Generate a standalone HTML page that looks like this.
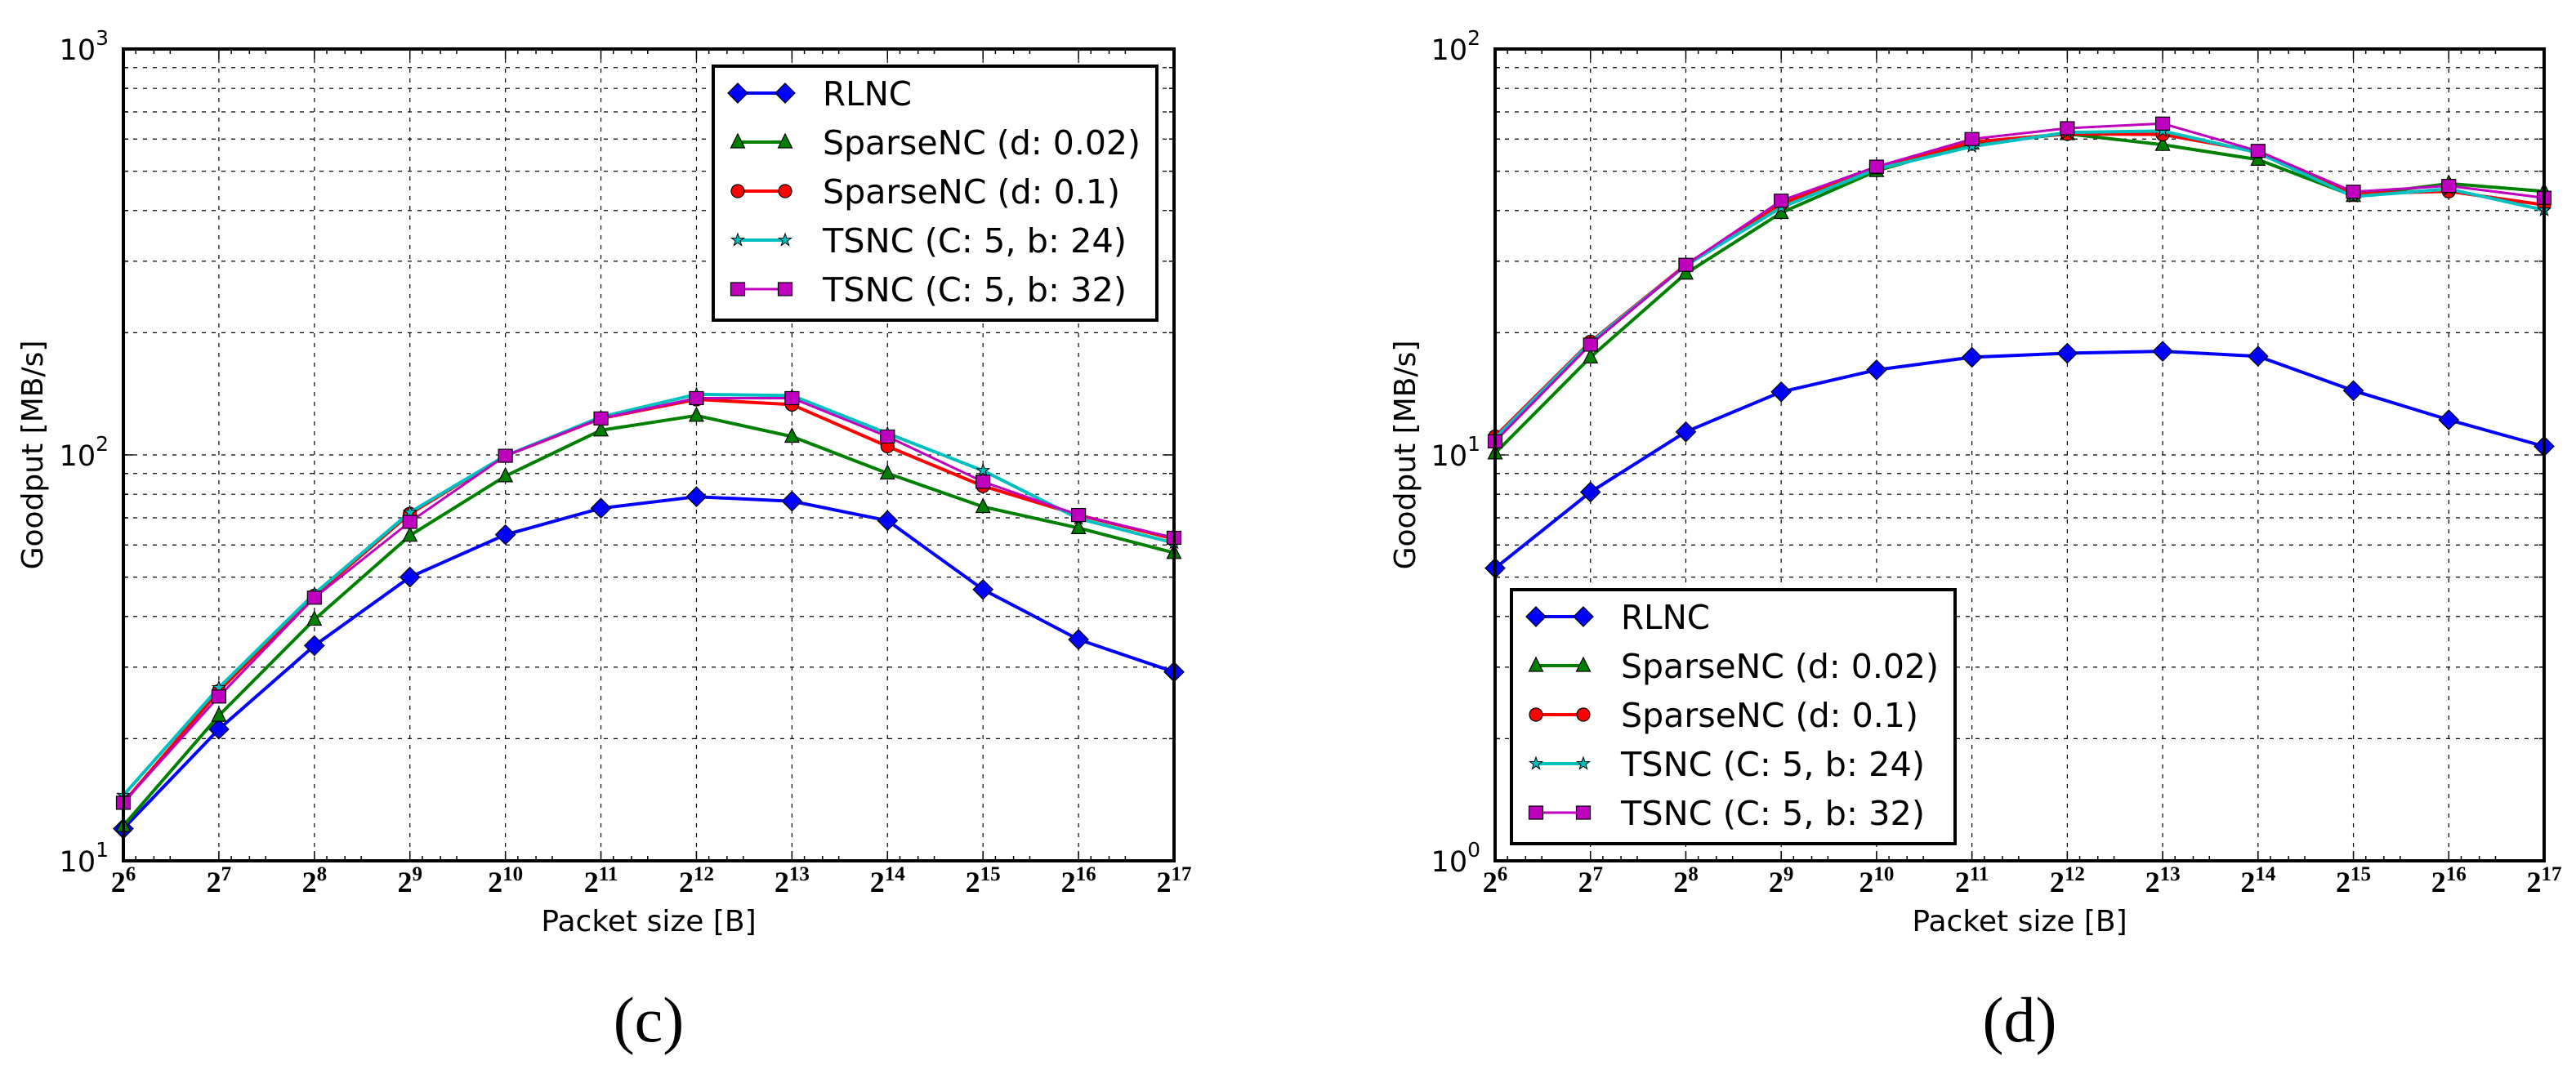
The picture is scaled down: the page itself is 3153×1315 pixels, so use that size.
<!DOCTYPE html>
<html><head><meta charset="utf-8"><style>
html,body{margin:0;padding:0;background:#fff;}
svg{display:block;}
</style></head><body>
<svg id="fig" width="3153" height="1315" viewBox="0 0 3153 1315" xmlns="http://www.w3.org/2000/svg"></svg>
<script>
const xExponents = [6,7,8,9,10,11,12,13,14,15,16,17];
const seriesNames = ["RLNC","SparseNC (d: 0.02)","SparseNC (d: 0.1)","TSNC (C: 5, b: 24)","TSNC (C: 5, b: 32)"];
// panel (c) values [MB/s]
const cRLNC = [12.0,21.1,33.9,50,63.6,73.9,78.9,76.9,68.9,46.6,35.1,29.2];
const cSparse002 = [12.2,22.8,39.3,63.3,88.7,115,125,111,90.1,74.5,66.1,57.4];
const cSparse01 = [13.9,26.2,45,71.6,99.5,123,137,133,105,83.8,71.1,62.1];
const cTSNC24 = [14.5,26.7,45.5,72.2,99.5,124,141,140,113,91.5,69.7,60.7];
const cTSNC32 = [13.9,25.4,44.5,68.4,99.5,123,138,138,111,85.9,71.1,62.5];
// panel (d) values [MB/s]
const dRLNC = [5.26,8.1,11.4,14.3,16.2,17.4,17.8,18.0,17.5,14.4,12.2,10.5];
const dSparse002 = [10.1,17.4,28.0,39.5,50.1,58.6,61.8,58.1,53.4,43.5,46.6,44.6];
const dSparse01 = [11.1,19.0,29.4,41.5,51.1,59.0,61.8,61.6,55.9,44.0,44.6,41.3];
const dTSNC24 = [11.0,18.9,29.3,40.7,50.6,57.5,62.3,62.8,55.5,43.3,45.2,40.1];
const dTSNC32 = [10.8,18.7,29.4,42.3,51.3,60.0,63.8,65.5,56.1,44.5,46.0,43.0];
const cYDecades = [1,2,3];
const dYDecades = [0,1,2];

const NS = "http://www.w3.org/2000/svg";
const svg = document.getElementById('fig');
const colors = ["#0000ff","#008000","#ff0000","#00bfbf","#bf00bf"];
const markers = ["diamond","triangle","circle","star","square"];
const lineW = [4,4,4,4,3];

function el(tag, attrs, parent){
  const e = document.createElementNS(NS, tag);
  for (const k in attrs) e.setAttribute(k, attrs[k]);
  (parent||svg).appendChild(e);
  return e;
}

function marker(g, type, x, y, color){
  let m;
  if (type==="diamond"){
    m = el('polygon',{points:`${x},${y-12} ${x+12},${y} ${x},${y+12} ${x-12},${y}`,fill:color,stroke:'#000','stroke-width':1.2},g);
  } else if (type==="triangle"){
    m = el('polygon',{points:`${x},${y-10} ${x+8.5},${y+7} ${x-8.5},${y+7}`,fill:color,stroke:'#000','stroke-width':1.2},g);
  } else if (type==="circle"){
    m = el('circle',{cx:x,cy:y,r:8,fill:color,stroke:'#000','stroke-width':1.2},g);
  } else if (type==="square"){
    m = el('rect',{x:x-8.5,y:y-8,width:17,height:16,fill:color,stroke:'#000','stroke-width':1.2},g);
  } else {
    let pts=[];
    for(let i=0;i<10;i++){const r=i%2?3.2:8;const a=-Math.PI/2+i*Math.PI/5;pts.push((x+r*Math.cos(a)).toFixed(1)+','+(y+r*Math.sin(a)).toFixed(1));}
    m = el('polygon',{points:pts.join(' '),fill:color,stroke:'#000','stroke-width':1},g);
  }
  
  
}

function panel(cfg){
  const {L,R,T,B,dec0,decades,series,legend,label,ylabelX,id} = cfg;
  const g = el('g',{});
  
  
  const xs = e => L + (e - xExponents[0])/(xExponents[xExponents.length-1]-xExponents[0])*(R-L);
  const ys = v => B - (Math.log10(v) - dec0)/(decades[decades.length-1]-dec0)*(B-T);
  const grid = el('g',{stroke:'#000','stroke-width':1.2,'stroke-dasharray':'5,7',fill:'none'},g);
  
  
  for (let d=dec0; d<decades[decades.length-1]; d++){
    for (let s=1;s<=9;s++){
      const v = s*Math.pow(10,d); const y = ys(v);
      if (s>1 || d>dec0) el('line',{x1:L,x2:R,y1:y,y2:y},grid);
      const len = s===1?12:6;
      el('line',{x1:L,x2:L+len,y1:y,y2:y,stroke:'#000','stroke-width':1.5},g);
      el('line',{x1:R,x2:R-len,y1:y,y2:y,stroke:'#000','stroke-width':1.5},g);
    }
  }
  xExponents.forEach((e,i)=>{
    const x = xs(e);
    if (i>0 && i<xExponents.length-1) el('line',{x1:x,x2:x,y1:T,y2:B},grid);
    el('line',{x1:x,x2:x,y1:B,y2:B-12,stroke:'#000','stroke-width':1.5},g);
    el('line',{x1:x,x2:x,y1:T,y2:T+12,stroke:'#000','stroke-width':1.5},g);
    if (i<xExponents.length-1){
      [0.13,0.32,0.49].forEach(f=>{
        const xm = x + f*(xs(xExponents[1])-xs(xExponents[0]));
        el('line',{x1:xm,x2:xm,y1:B,y2:B-6,stroke:'#000','stroke-width':1.5},g);
        el('line',{x1:xm,x2:xm,y1:T,y2:T+6,stroke:'#000','stroke-width':1.5},g);
      });
    }
    const t = el('text',{x:x,y:B+38,'text-anchor':'middle','font-family':'"Liberation Serif",serif','font-weight':'bold','font-size':36},g);
    
    
    t.appendChild(document.createTextNode('2'));
    const sup = el('tspan',{dy:-14,'font-size':25},t);
    sup.textContent = String(e);
  });
  decades.forEach(d=>{
    const y = ys(Math.pow(10,d));
    const t = el('text',{x:L-18,y:y+13,'text-anchor':'end','font-family':'"DejaVu Sans","Liberation Sans",sans-serif','font-size':35},g);
    
    
    t.appendChild(document.createTextNode('10'));
    const sup = el('tspan',{dy:-18,'font-size':25},t);
    sup.textContent = String(d);
  });
  series.forEach((vals,si)=>{
    const sg = el('g',{},g);
    
    
    const pts = vals.map((v,i)=>xs(xExponents[i]).toFixed(1)+','+ys(v).toFixed(1)).join(' ');
    const pl = el('polyline',{points:pts,fill:'none',stroke:colors[si],'stroke-width':lineW[si],'stroke-linejoin':'round'},sg);
    
    
    vals.forEach((v,i)=>marker(sg,markers[si],xs(xExponents[i]),ys(v),colors[si]));
  });
  const fr = el('rect',{x:L,y:T,width:R-L,height:B-T,fill:'none',stroke:'#000','stroke-width':4},g);
  
  
  const lg = el('g',{},g);
  
  
  el('rect',{x:legend.x,y:legend.y,width:legend.w,height:legend.h,fill:'#fff',stroke:'#000','stroke-width':4},lg);
  const lens = [109, 389, 364, 372, 372];
  seriesNames.forEach((n,si)=>{
    const y = legend.y + 33 + si*60;
    const x1 = legend.x + 30, x2 = legend.x + 88;
    el('line',{x1:x1,x2:x2,y1:y,y2:y,stroke:colors[si],'stroke-width':lineW[si]},lg);
    marker(lg,markers[si],x1,y,colors[si]);
    marker(lg,markers[si],x2,y,colors[si]);
    const t = el('text',{x:legend.x+134,y:y+15,'font-family':'"DejaVu Sans","Liberation Sans",sans-serif','font-size':41,textLength:lens[si],lengthAdjust:'spacingAndGlyphs'},lg);
    
    
    t.textContent = n;
  });
  const xt = el('text',{x:(L+R)/2,y:B+86,'text-anchor':'middle','font-family':'"DejaVu Sans","Liberation Sans",sans-serif','font-size':36},g);
  
  
  xt.textContent = 'Packet size [B]';
  const yt = el('text',{x:0,y:0,'text-anchor':'middle','font-family':'"DejaVu Sans","Liberation Sans",sans-serif','font-size':36,transform:`translate(${ylabelX},${(T+B)/2}) rotate(-90)`},g);
  
  
  yt.textContent = 'Goodput [MB/s]';
  const cap = el('text',{x:(L+R)/2,y:1275,'text-anchor':'middle','font-family':'"Liberation Serif",serif','font-size':78},g);
  
  
  cap.textContent = label;
}

panel({id:'c',L:151,R:1437,T:60,B:1054,dec0:1,decades:cYDecades,
  series:[cRLNC,cSparse002,cSparse01,cTSNC24,cTSNC32],
  legend:{x:873,y:81,w:543,h:311},label:'(c)',ylabelX:52});
panel({id:'d',L:1830,R:3114,T:60,B:1054,dec0:0,decades:dYDecades,
  series:[dRLNC,dSparse002,dSparse01,dTSNC24,dTSNC32],
  legend:{x:1850,y:722,w:543,h:311},label:'(d)',ylabelX:1732});
</script>
</body></html>
